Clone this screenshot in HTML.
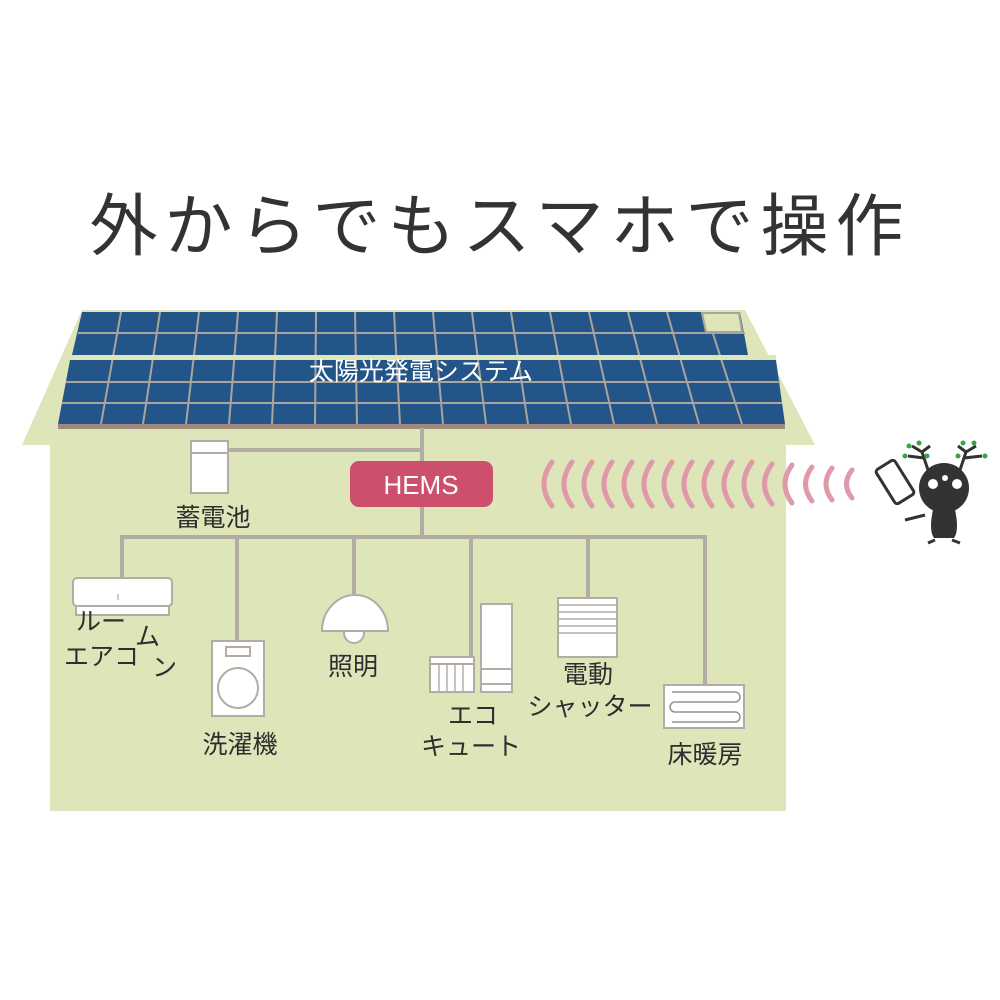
<!DOCTYPE html>
<html><head><meta charset="utf-8"><style>
html,body{margin:0;padding:0;background:#fff;}
svg{display:block;}
text{font-family:"Liberation Sans","Noto Sans CJK JP",sans-serif;}
</style></head><body>
<svg width="1000" height="1000" viewBox="0 0 1000 1000" xmlns="http://www.w3.org/2000/svg">
<rect width="1000" height="1000" fill="#fff"/>
<text x="500" y="250" font-size="68" fill="#333" text-anchor="middle" letter-spacing="7" style="font-family:'Noto Sans CJK JP',sans-serif;">外からでもスマホで操作</text>

<polygon points="82,310 745,310 815,445 22,445" fill="#dde5b9"/>
<rect x="50" y="445" width="736" height="366" fill="#dde5b9"/>

<polygon points="82,312 740,312 748,355 72,355" fill="#245589"/>
<polygon points="70,360 776,360 785,424 58,424" fill="#245589"/>
<g stroke="#aaa49b" stroke-width="2">
<line x1="121" y1="312" x2="101" y2="424"/><line x1="160" y1="312" x2="143" y2="424"/>
<line x1="199" y1="312" x2="186" y2="424"/><line x1="238" y1="312" x2="229" y2="424"/>
<line x1="277" y1="312" x2="272" y2="424"/><line x1="316" y1="312" x2="315" y2="424"/>
<line x1="355" y1="312" x2="357" y2="424"/><line x1="394" y1="312" x2="400" y2="424"/>
<line x1="433" y1="312" x2="443" y2="424"/><line x1="472" y1="312" x2="486" y2="424"/>
<line x1="511" y1="312" x2="528" y2="424"/><line x1="550" y1="312" x2="571" y2="424"/>
<line x1="589" y1="312" x2="614" y2="424"/><line x1="628" y1="312" x2="657" y2="424"/>
<line x1="667" y1="312" x2="699" y2="424"/><line x1="706" y1="312" x2="742" y2="424"/>
<line x1="78" y1="333" x2="745" y2="333"/>
<line x1="66" y1="382" x2="780" y2="382"/>
<line x1="62" y1="403" x2="782" y2="403"/>
</g>
<polygon points="70,355 776,355 776,360 70,360" fill="#dde5b9"/>
<polygon points="702,313 739,313 742,332 706,332" fill="#dde5b9" stroke="#aaa49b" stroke-width="2"/>
<rect x="58" y="424" width="727" height="5" fill="#a08a80"/>
<text x="421" y="380" font-size="25" fill="#fff" text-anchor="middle">太陽光発電システム</text>

<g stroke="#b3aca4" stroke-width="4" fill="none">
<line x1="422" y1="428" x2="422" y2="537"/>
<line x1="226" y1="450" x2="422" y2="450"/>
<polyline points="122,578 122,537 705,537 705,685"/>
<line x1="237" y1="537" x2="237" y2="641"/>
<line x1="354" y1="537" x2="354" y2="596"/>
<line x1="471" y1="537" x2="471" y2="658"/>
<line x1="588" y1="537" x2="588" y2="598"/>
</g>

<rect x="191" y="441" width="37" height="52" fill="#fff" stroke="#b3aca4" stroke-width="2"/>
<line x1="191" y1="453" x2="228" y2="453" stroke="#b3aca4" stroke-width="2"/>
<text x="213" y="526" font-size="25" fill="#2e2e2e" text-anchor="middle">蓄電池</text>

<rect x="350" y="461" width="143" height="46" rx="9" fill="#cc4f6b"/>
<text x="421" y="494" font-size="26" fill="#fff" text-anchor="middle">HEMS</text>

<g stroke="#df99a8" stroke-width="5" fill="none" stroke-linecap="round">
<path d="M552,462 Q536,484 552,506"/><path d="M572,462 Q556,484 572,506"/>
<path d="M592,462 Q576,484 592,506"/><path d="M612,462 Q596,484 612,506"/>
<path d="M632,462 Q616,484 632,506"/><path d="M652,462 Q636,484 652,506"/>
<path d="M672,462 Q656,484 672,506"/><path d="M692,462 Q676,484 692,506"/>
<path d="M712,462 Q696,484 712,506"/><path d="M732,462 Q716,484 732,506"/>
<path d="M752,462 Q736,484 752,506"/><path d="M772,464 Q757,484 772,504"/>
<path d="M792,465 Q778,484 792,503"/><path d="M812,467 Q799,484 812,501"/>
<path d="M832,468 Q820,484 832,500"/><path d="M852,470 Q841,484 852,498"/>
</g>

<g fill="#333" stroke="#333">
<g stroke-width="3" fill="none">
<path d="M928,470 L922,452 M922,452 L912,446 M922,452 L930,446 M924,458 L908,456"/>
<path d="M960,470 L966,452 M966,452 L958,446 M966,452 L976,446 M964,458 L982,456"/>
</g>
<circle cx="944" cy="488" r="25" stroke="none"/>
<path d="M934,505 Q928,530 934,538 L954,538 Q960,530 954,505 Z" stroke="none"/>
<path d="M935,540 L928,543 M952,540 L960,543" stroke-width="3"/>
<path d="M925,515 L905,520" stroke-width="3"/>
<g transform="rotate(-32 895 482)"><rect x="884" y="462" width="22" height="40" rx="3" fill="#fff" stroke-width="3"/></g>
</g>
<g fill="#fff"><circle cx="933" cy="484" r="5"/><circle cx="957" cy="484" r="5"/><circle cx="945" cy="478" r="3"/></g>
<g fill="#3aa04a"><circle cx="909" cy="446" r="2.5"/><circle cx="919" cy="443" r="2.5"/><circle cx="905" cy="456" r="2.5"/><circle cx="927" cy="456" r="2.5"/>
<circle cx="963" cy="443" r="2.5"/><circle cx="974" cy="443" r="2.5"/><circle cx="958" cy="456" r="2.5"/><circle cx="985" cy="456" r="2.5"/></g>

<rect x="73" y="578" width="99" height="28" rx="4" fill="#fff" stroke="#b3aca4" stroke-width="2"/>
<rect x="76" y="606" width="93" height="9" fill="#fff" stroke="#b3aca4" stroke-width="2"/>
<line x1="118" y1="594" x2="118" y2="600" stroke="#999" stroke-width="1"/>
<g font-size="25" fill="#2e2e2e">
<text x="76" y="630">ルー</text><text x="135" y="645">ム</text>
<text x="64" y="665">エアコ</text><text x="152" y="676">ン</text>
</g>

<rect x="212" y="641" width="52" height="75" fill="#fff" stroke="#b3aca4" stroke-width="2"/>
<rect x="226" y="647" width="24" height="9" fill="#fff" stroke="#b3aca4" stroke-width="2"/>
<circle cx="238" cy="688" r="20" fill="#fff" stroke="#b3aca4" stroke-width="2"/>
<text x="240" y="753" font-size="25" fill="#2e2e2e" text-anchor="middle">洗濯機</text>

<circle cx="354" cy="633" r="10" fill="#fff" stroke="#b3aca4" stroke-width="2"/>
<path d="M322,631 A33,36 0 0 1 388,631 Z" fill="#fff" stroke="#b3aca4" stroke-width="2"/>
<text x="353" y="675" font-size="25" fill="#2e2e2e" text-anchor="middle">照明</text>

<rect x="430" y="657" width="44" height="35" fill="#fff" stroke="#b3aca4" stroke-width="2"/>
<line x1="430" y1="664" x2="474" y2="664" stroke="#b3aca4" stroke-width="2"/>
<g stroke="#b3aca4" stroke-width="1.5"><line x1="439" y1="664" x2="439" y2="692"/><line x1="447" y1="664" x2="447" y2="692"/><line x1="455" y1="664" x2="455" y2="692"/><line x1="463" y1="664" x2="463" y2="692"/></g>
<rect x="481" y="604" width="31" height="88" fill="#fff" stroke="#b3aca4" stroke-width="2"/>
<line x1="481" y1="669" x2="512" y2="669" stroke="#b3aca4" stroke-width="2"/>
<line x1="481" y1="684" x2="512" y2="684" stroke="#b3aca4" stroke-width="2"/>
<text x="473" y="724" font-size="25" fill="#2e2e2e" text-anchor="middle">エコ</text>
<text x="471" y="755" font-size="25" fill="#2e2e2e" text-anchor="middle">キュート</text>

<rect x="558" y="598" width="59" height="59" fill="#fff" stroke="#b3aca4" stroke-width="2"/>
<g stroke="#b3aca4" stroke-width="1.5"><line x1="558" y1="605" x2="617" y2="605"/><line x1="558" y1="612" x2="617" y2="612"/><line x1="558" y1="619" x2="617" y2="619"/><line x1="558" y1="626" x2="617" y2="626"/><line x1="558" y1="633" x2="617" y2="633"/></g>
<text x="588" y="683" font-size="25" fill="#2e2e2e" text-anchor="middle">電動</text>
<text x="590" y="715" font-size="25" fill="#2e2e2e" text-anchor="middle">シャッター</text>

<rect x="664" y="685" width="80" height="43" fill="#fff" stroke="#b3aca4" stroke-width="2"/>
<path d="M672,692 L735,692 A5,5 0 0 1 735,702 L675,702 A5,5 0 0 0 675,712 L735,712 A5,5 0 0 1 735,722 L672,722" fill="none" stroke="#9a928a" stroke-width="1.5"/>
<text x="705" y="763" font-size="25" fill="#2e2e2e" text-anchor="middle">床暖房</text>
</svg>
</body></html>
